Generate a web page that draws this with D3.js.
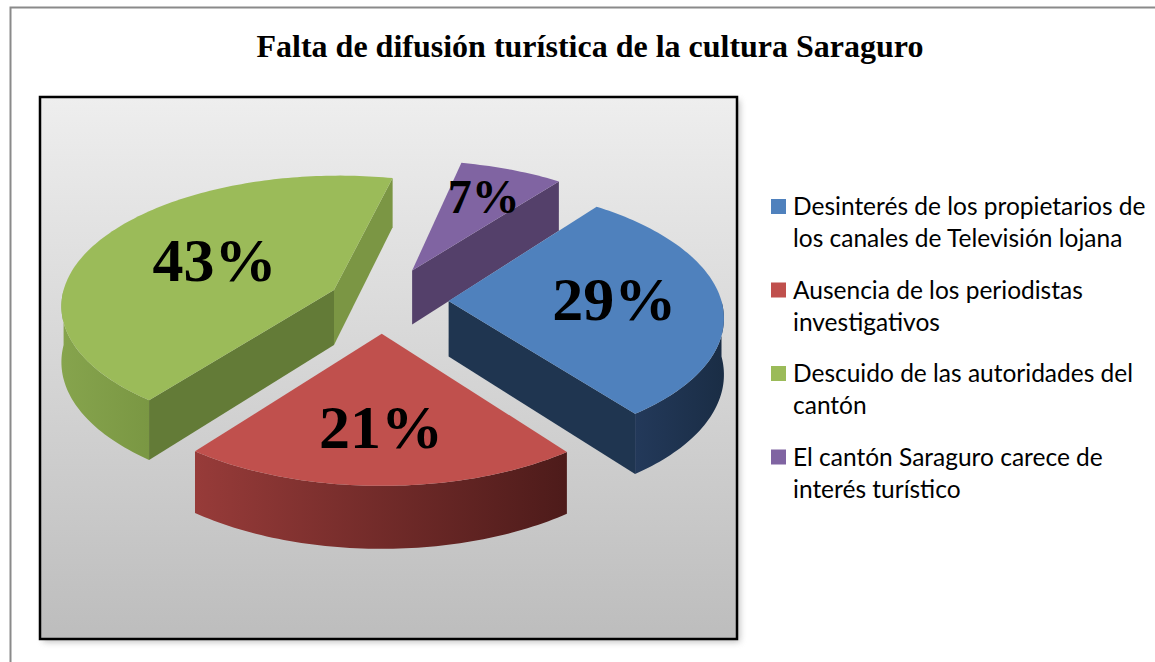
<!DOCTYPE html>
<html>
<head>
<meta charset="utf-8">
<script src="https://cdn.jsdelivr.net/npm/d3@7"></script>
<style>
  body { margin: 0; background: #fff; }
</style>
</head>
<body>
<script>
// data
const categories = [
  "Desinterés de los propietarios de los canales de Televisión lojana",
  "Ausencia de los periodistas investigativos",
  "Descuido de las autoridades del cantón",
  "El cantón Saraguro carece de interés turístico"
];
const legendLines = [
  ["Desinterés de los propietarios de", "los canales de Televisión lojana"],
  ["Ausencia de los periodistas", "investigativos"],
  ["Descuido de las autoridades del", "cantón"],
  ["El cantón Saraguro carece de", "interés turístico"]
];
const values = [29, 21, 43, 7];
const labels = ["29%", "21%", "43%", "7%"];
const title = "Falta de difusión turística de la cultura Saraguro";

const topColors = ["#4F81BD", "#C0504D", "#9BBB59", "#8064A2"];
const wallColors = ["#1F3550", "#7A2E2C", "#637B37", "#54406A"];
const wallColors2 = ["#1F3550", "#7A2E2C", "#7B9644", "#54406A"];
// how far each slice is pulled out
const explodes = [72, 72, 58, 78];

function main(){
const W = 1155, H = 662;
const svg = d3.select("body").append("svg")
    .attr("width", W).attr("height", H);

const defs = svg.append("defs");
const bg = defs.append("linearGradient").attr("id", "bg")
    .attr("x1", 0).attr("y1", 0).attr("x2", 0).attr("y2", 1);
bg.append("stop").attr("offset", "0%").attr("stop-color", "#EEEEEE");
bg.append("stop").attr("offset", "100%").attr("stop-color", "#BDBDBD");

// side wall gradients (lighter at the left)
const grads = [["#23395A", "#1A2D45"], ["#973B39", "#4D1B1A"], ["#86A44D", "#7A9743"], ["#5A456F", "#4E3B62"]];
grads.forEach((g, i) => {
  const lg = defs.append("linearGradient").attr("id", "wall" + i)
      .attr("x1", 0).attr("y1", 0).attr("x2", 1).attr("y2", 0);
  lg.append("stop").attr("offset", "0%").attr("stop-color", g[0]);
  lg.append("stop").attr("offset", "100%").attr("stop-color", g[1]);
});

const blur = defs.append("filter").attr("id", "shadow")
    .attr("x", "-5%").attr("y", "-5%").attr("width", "110%").attr("height", "110%");
blur.append("feGaussianBlur").attr("stdDeviation", 3);

// outer frame
svg.append("path")
    .attr("d", `M10.5,${H} V7.5 H${W}`)
    .attr("fill", "none").attr("stroke", "#8a8a8a").attr("stroke-width", 2);

svg.append("text")
    .attr("x", 590).attr("y", 57)
    .attr("text-anchor", "middle")
    .attr("font-family", "'Liberation Serif', 'Times New Roman', serif")
    .attr("font-weight", "bold")
    .attr("font-size", "32px")
    .text(title);

// plot area
svg.append("rect")
    .attr("x", 43).attr("y", 100).attr("width", 697).attr("height", 542)
    .attr("fill", "#999").attr("opacity", 0.6).attr("filter", "url(#shadow)");
svg.append("rect")
    .attr("x", 40).attr("y", 97).attr("width", 697).attr("height", 542)
    .attr("fill", "url(#bg)").attr("stroke", "#000").attr("stroke-width", 2.5);

// 3d pie
const R = 295, k = 0.48, cx = 382, cy = 301, depth = 60;
const first = 38 * Math.PI / 180;

const pie = d3.pie().sort(null)
    .startAngle(first).endAngle(first + 2 * Math.PI);
const arcs = pie(values).map((d, i) => Object.assign(d, {i: i}));

function proj(u, w, z){
  const p = 0.925 + 0.1 * w / R;
  return [cx + u * p, cy + w * k * p + z * depth * p];
}
function pt(d, r, a, z){
  const m = (d.startAngle + d.endAngle) / 2;
  const e = explodes[d.i];
  const u = e * Math.sin(m) + r * Math.sin(a);
  const w = -e * Math.cos(m) - r * Math.cos(a);
  return proj(u, w, z);
}
function arcPts(d, a0, a1, z){
  const n = Math.max(2, Math.ceil((a1 - a0) / 0.02));
  return d3.range(n + 1).map(j => pt(d, R, a0 + (a1 - a0) * j / n, z));
}
const line = d3.line().curve(d3.curveLinearClosed);

// back slices first
const order = arcs.slice().sort((a, b) =>
  -Math.cos((a.startAngle + a.endAngle) / 2) - -Math.cos((b.startAngle + b.endAngle) / 2));

const g = svg.append("g");
order.forEach(d => {
  const s = g.append("g");
  // outer wall, only the part turned to the viewer
  [[Math.PI / 2, 3 * Math.PI / 2], [Math.PI / 2 + 2 * Math.PI, 3 * Math.PI / 2 + 2 * Math.PI]].forEach(rg => {
    const a0 = Math.max(d.startAngle, rg[0]), a1 = Math.min(d.endAngle, rg[1]);
    if (a1 > a0) {
      const pts = arcPts(d, a0, a1, 0).concat(arcPts(d, a0, a1, 1).reverse());
      s.append("path").attr("d", line(pts)).attr("fill", `url(#wall${d.i})`);
    }
  });
  // cut faces
  if (Math.sin(d.startAngle) < 0) {
    const a = d.startAngle;
    s.append("path").attr("d", line([pt(d, 0, a, 0), pt(d, R, a, 0), pt(d, R, a, 1), pt(d, 0, a, 1)]))
        .attr("fill", wallColors[d.i]);
  }
  if (Math.sin(d.endAngle) > 0) {
    const a = d.endAngle;
    s.append("path").attr("d", line([pt(d, 0, a, 0), pt(d, R, a, 0), pt(d, R, a, 1), pt(d, 0, a, 1)]))
        .attr("fill", wallColors2[d.i]);
  }
  // top face
  s.append("path")
      .attr("d", line([pt(d, 0, 0, 0)].concat(arcPts(d, d.startAngle, d.endAngle, 0))))
      .attr("fill", topColors[d.i]);
});

// percentage labels near the centroid of each top face
arcs.forEach(d => {
  const half = (d.endAngle - d.startAngle) / 2;
  const rc = 1.05 * (2 / 3) * R * Math.sin(half) / half;
  const c = pt(d, rc, (d.startAngle + d.endAngle) / 2, 0);
  svg.append("text")
      .attr("x", c[0]).attr("y", c[1])
      .attr("dy", "0.3em")
      .attr("text-anchor", "middle")
      .attr("font-family", "'Liberation Serif', 'Times New Roman', serif")
      .attr("font-weight", "bold")
      .attr("font-size", d.value < 10 ? "48px" : "62px")
      .text(labels[d.i]);
});

// legend
const leg = svg.append("g").attr("transform", "translate(771,215)");
legendLines.forEach((lines, i) => {
  const it = leg.append("g").attr("transform", `translate(0,${i * 83.5})`);
  it.append("rect").attr("x", 0).attr("y", -16).attr("width", 15).attr("height", 15)
      .attr("fill", topColors[i]);
  it.selectAll("text").data(lines).join("text")
      .attr("x", 22).attr("y", (t, j) => j * 32)
      .attr("font-family", "Lato, 'Noto Sans', sans-serif")
      .attr("font-size", "24.5px")
      .attr("fill", "#000")
      .text(t => t);
});
}

main();
</script>
</body>
</html>
